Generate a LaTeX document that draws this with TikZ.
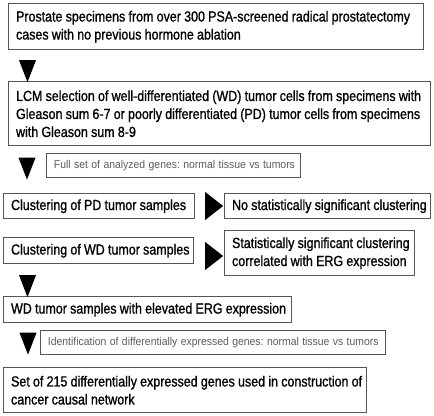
\documentclass[tikz,border=0pt]{standalone}
\usepackage{fontspec}
\setmainfont{Liberation Sans}[FakeStretch=0.85, FakeBold=1]
\newfontfamily\notefont{Liberation Sans}[FakeStretch=0.92]
\usepackage{tikz}
\usetikzlibrary{positioning, shapes.geometric}
\definecolor{flow-line}{HTML}{555555}
\definecolor{flow-text}{HTML}{000000}
\definecolor{flow-note}{HTML}{5C5C5C}

\begin{document}
\begin{tikzpicture}[
    x=0.75pt, y=-0.75pt,
    box/.style={draw=flow-line, line width=1.1pt, anchor=north west, inner xsep=5.5pt,
                inner ysep=0pt, align=left, text=flow-text,
                font=\fontsize{11}{13.5}\selectfont,
                execute at begin node={\spaceskip=0.22em\xspaceskip=0.22em
                                       \rightskip=0pt minus 30pt\relax}},
    note/.style={box, line width=0.9pt, text=flow-note,
                 font=\notefont\fontsize{8.5}{10}\selectfont,
                 execute at begin node={\spaceskip=0.3em\xspaceskip=0.3em
                                        \rightskip=0pt minus 30pt\relax}},
    down/.style={isosceles triangle, shape border rotate=-90, isosceles triangle stretches,
                 fill=black, inner sep=0pt, minimum width=12.75pt, minimum height=16.5pt},
    right/.style={isosceles triangle, isosceles triangle stretches,
                  fill=black, inner sep=0pt, minimum width=21pt, minimum height=13.5pt},
]
    \useasboundingbox (0,0) rectangle (434,415);

    % Main flow
    \node[box, text width=300.25pt, minimum height=34.5pt] (specimens) at (8,3)
        {Prostate specimens from over 300 PSA-screened radical prostatectomy\\
         cases with no previous hormone ablation};
    \node[box, text width=305.5pt, minimum height=48pt] (lcm) at (8,81)
        {LCM selection of well-differentiated (WD) tumor cells from specimens with\\
         Gleason sum 6-7 or poorly differentiated (PD) tumor cells from specimens\\
         with Gleason sum 8-9};
    \node[note, text width=179.5pt, minimum height=18pt] (fullset) at (46,153)
        {Full set of analyzed genes: normal tissue vs tumors};

    % Clustering
    \node[box, text width=132.25pt, minimum height=18.75pt] (pdclust) at (3,193)
        {Clustering of PD tumor samples};
    \node[box, text width=143.5pt, minimum height=18.75pt] (pdres) at (224,193)
        {No statistically significant clustering};
    \node[box, text width=131.5pt, minimum height=19.5pt] (wdclust) at (3,237)
        {Clustering of WD tumor samples};
    \node[box, text width=131.5pt, minimum height=33.75pt] (wdres) at (224,230)
        {Statistically significant clustering\\
         correlated with ERG expression};

    % ERG and gene set
    \node[box, text width=205pt, minimum height=19.5pt] (erg) at (3,296)
        {WD tumor samples with elevated ERG expression};
    \node[note, text width=247.75pt, minimum height=18pt] (ident) at (40,330)
        {Identification of differentially expressed genes: normal tissue vs tumors};
    \node[box, text width=261.25pt, minimum height=33.75pt] (geneset) at (3,367)
        {Set of 215 differentially expressed genes used in construction of\\
         cancer causal network};

    % Arrow heads
    \node[down] (t1) at (27.5,66) {};
    \node[down] (t2) at (27,163.5) {};
    \node[right] (t3) at (212,206) {};
    \node[right] (t4) at (212,256) {};
    \node[down] (t5) at (27.5,281) {};
    \node[down] (t6) at (28,338.5) {};
\end{tikzpicture}
\end{document}
